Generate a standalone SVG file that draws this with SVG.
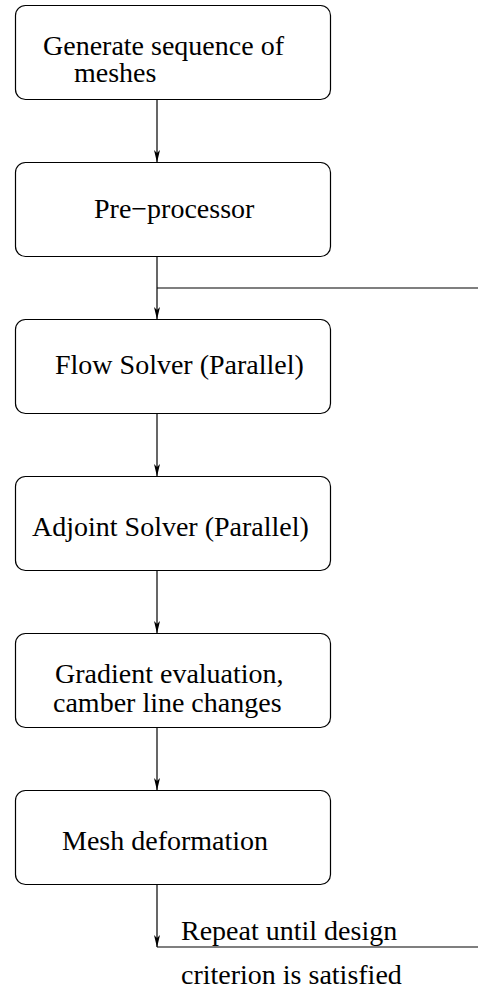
<svg xmlns="http://www.w3.org/2000/svg" width="478" height="991" viewBox="0 0 478 991">
<style>
.box{fill:#fff;stroke:#000;stroke-width:1.2}
.c{stroke:#000;stroke-width:1.2;fill:none}
.ah{fill:#000}
</style>
<rect width="478" height="991" fill="#fff"/>
<g id="connectors">
<line class="c" x1="157" y1="99.5" x2="157" y2="162.5"/>
<path class="ah" d="M154,150 L157,162.5 L160,150 L157,153 Z"/>
<line class="c" x1="157" y1="256.5" x2="157" y2="319.5"/>
<path class="ah" d="M154,307 L157,319.5 L160,307 L157,310 Z"/>
<line class="c" x1="157" y1="288" x2="478" y2="288"/>
<line class="c" x1="157" y1="413.5" x2="157" y2="476.5"/>
<path class="ah" d="M154,464 L157,476.5 L160,464 L157,467 Z"/>
<line class="c" x1="157" y1="570.5" x2="157" y2="633.5"/>
<path class="ah" d="M154,621 L157,633.5 L160,621 L157,624 Z"/>
<line class="c" x1="157" y1="727.5" x2="157" y2="790.5"/>
<path class="ah" d="M154,778 L157,790.5 L160,778 L157,781 Z"/>
<line class="c" x1="157" y1="884.5" x2="157" y2="947"/>
<path class="ah" d="M154,935 L157,947.5 L160,935 L157,938 Z"/>
<line class="c" x1="157" y1="947" x2="478" y2="947"/>
</g>
<g id="n1">
<rect class="box" x="15.5" y="5.5" width="315" height="94" rx="10"/>
<text style="font-family:'Liberation Serif',serif;font-size:28px" x="43" y="54.5">Generate sequence of</text>
<text style="font-family:'Liberation Serif',serif;font-size:28px" x="74" y="82">meshes</text>
</g>
<g id="n2">
<rect class="box" x="15.5" y="162.5" width="315" height="94" rx="10"/>
<text style="font-family:'Liberation Serif',serif;font-size:28px" x="94" y="218">Pre−processor</text>
</g>
<g id="n3">
<rect class="box" x="15.5" y="319.5" width="315" height="94" rx="10"/>
<text style="font-family:'Liberation Serif',serif;font-size:28px" x="55" y="374">Flow Solver (Parallel)</text>
</g>
<g id="n4">
<rect class="box" x="15.5" y="476.5" width="315" height="94" rx="10"/>
<text style="font-family:'Liberation Serif',serif;font-size:28px" x="32" y="536">Adjoint Solver (Parallel)</text>
</g>
<g id="n5">
<rect class="box" x="15.5" y="633.5" width="315" height="94" rx="10"/>
<text style="font-family:'Liberation Serif',serif;font-size:28px" x="55" y="683">Gradient evaluation,</text>
<text style="font-family:'Liberation Serif',serif;font-size:28px" x="53" y="712">camber line changes</text>
</g>
<g id="n6">
<rect class="box" x="15.5" y="790.5" width="315" height="94" rx="10"/>
<text style="font-family:'Liberation Serif',serif;font-size:28px" x="62" y="850">Mesh deformation</text>
</g>
<g id="label">
<text style="font-family:'Liberation Serif',serif;font-size:28px" x="181" y="940">Repeat until design</text>
<text style="font-family:'Liberation Serif',serif;font-size:28px" x="181" y="984">criterion is satisfied</text>
</g>
</svg>
